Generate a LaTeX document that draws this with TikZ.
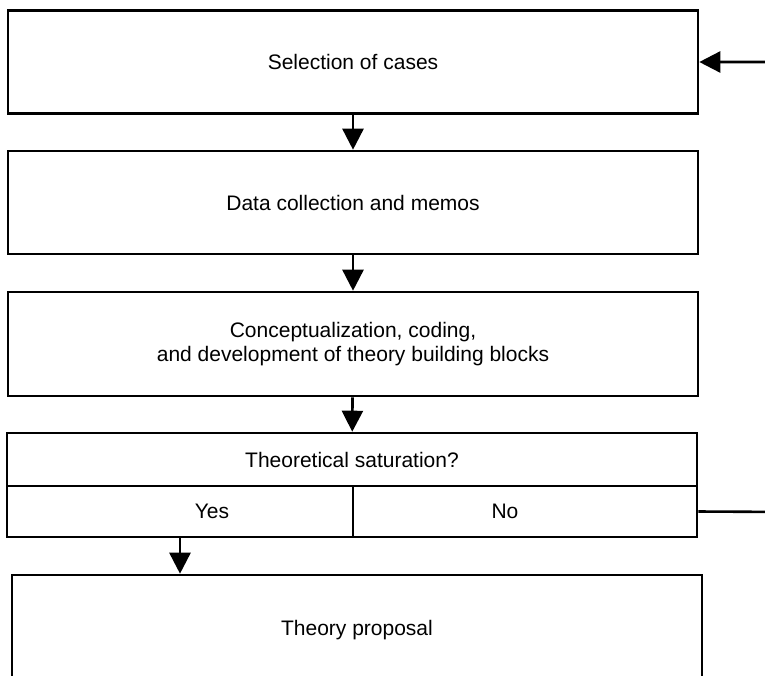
\documentclass[tikz,border=0pt]{standalone}
\usepackage{fontspec}
\setmainfont{Liberation Sans}
\usetikzlibrary{positioning,arrows.meta}

\begin{document}
\begin{tikzpicture}[
    x=1pt, y=-1pt,
    font=\fontsize{21}{24}\selectfont,
    box/.style={rectangle, draw, line width=2.6pt, minimum width=690pt, minimum height=103pt, align=center, inner sep=0pt},
    cell/.style={rectangle, draw, line width=2.6pt, inner sep=0pt},
    arrow/.style={-{Triangle[length=21pt,width=21pt]}, line width=2.6pt}
]
\clip (0,0) rectangle (765,675);
\path[use as bounding box] (0,0) rectangle (765,675);

% -------- Boxes --------
\node[box] (selection) at (353,62) {Selection of cases};

\node[box] (data) at (353,202.5) {Data collection and memos};

\node[box, minimum height=104pt] (coding) at (353,344) {
Conceptualization, coding,\\
and development of theory building blocks
};

% -------- Decision --------
\node[cell, minimum width=690pt, minimum height=53pt] (saturation) at (352,459.5) {Theoretical saturation?};
\node[cell, minimum width=346pt, minimum height=51pt] (yes) at (180,511.5) {};
\node[cell, minimum width=344pt, minimum height=51pt] (no) at (525,511.5) {};
\node (yestext) at (212,511.5) {Yes};
\node (notext) at (505,511.5) {No};

\node[box, minimum height=110pt] (proposal) at (357,630) {Theory proposal};

% -------- Arrows --------
\coordinate (loopbottom) at (790,512);
\coordinate (looptop) at (790,62);

\draw[arrow] (selection) -- (data);
\draw[arrow] (data) -- (coding);
\draw[arrow] (coding) -- (saturation);
\draw[arrow] (yes.south) -- (yes.south |- proposal.north);
\draw[arrow] (no.east) -- (loopbottom) -- (looptop) -- (selection.east);

\end{tikzpicture}
\end{document}
